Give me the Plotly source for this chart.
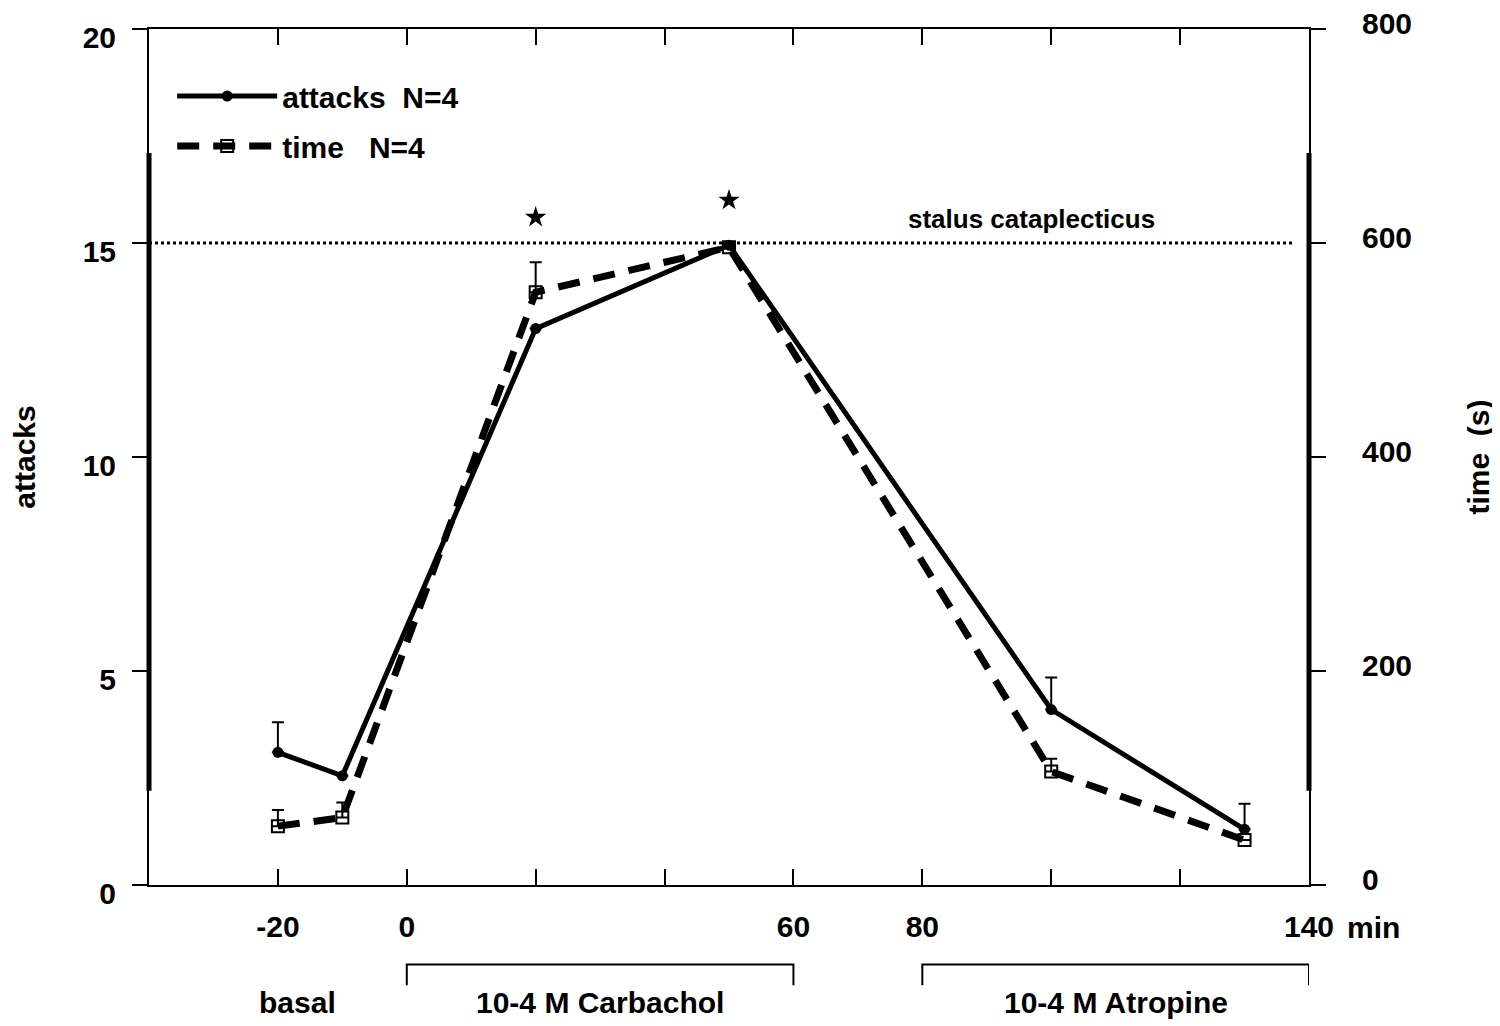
import plotly.graph_objects as go

# sampling times (min)
minutes = [-20, -10, 20, 50, 100, 130]

# cataplectic attacks (left axis)
attacks = [3.1, 2.55, 13.0, 14.95, 4.1, 1.3]
attacks_err = [0.7, 0.0, 0.0, 0.0, 0.75, 0.6]

# time in cataplexy, seconds (right axis)
time_s = [55, 63, 554, 596, 106, 42]
time_err = [15, 14, 28, 0, 12, 0]

# significance marks
sig_minutes = [20, 50]
sig_level = [15.6, 16.0]

status_level = 15
status_label = "stalus cataplecticus"

x_tickvals = [-20, 0, 20, 40, 60, 80, 100, 120, 140]
x_ticktext = ["-20", "0", "", "", "60", "80", "", "", "140"]
y_tickvals = [0, 5, 10, 15, 20]
y2_tickvals = [0, 200, 400, 600, 800]

# treatment periods shown below the axis
treatments = ["10-4 M Carbachol", "10-4 M Atropine"]
treat_start = [0, 80]
treat_end = [60, 140]
basal_label = "basal"
basal_x = -17

# the scanned axes are drawn heavier over this span
axis_bold_span = [2.2, 17.1]

FONT = "Liberation Sans, Arial, sans-serif"

fig = go.Figure()

fig.add_trace(go.Scatter(
    x=minutes, y=attacks,
    mode="lines+markers",
    name="attacks  N=4",
    line=dict(color="black", width=5),
    marker=dict(symbol="circle", size=11, color="black"),
    error_y=dict(type="data", array=attacks_err, arrayminus=[0] * len(attacks_err),
                 color="black", thickness=2, width=6),
    legendgroup="a",
))

fig.add_trace(go.Scatter(
    x=minutes, y=time_s,
    mode="lines+markers",
    name="time   N=4",
    yaxis="y2",
    line=dict(color="black", width=7, dash="22px,14px"),
    marker=dict(symbol="square-open", size=12, color="black", line=dict(width=2)),
    error_y=dict(type="data", array=time_err, arrayminus=[0] * len(time_err),
                 color="black", thickness=2, width=6),
    legendgroup="b",
))

fig.add_trace(go.Scatter(
    x=sig_minutes, y=sig_level,
    mode="markers",
    marker=dict(symbol="star", size=16, color="black"),
    showlegend=False,
    hoverinfo="skip",
))

shapes = [
    dict(type="line", xref="paper", x0=0, x1=0.987, yref="y", y0=status_level, y1=status_level,
         line=dict(color="black", width=3, dash="dot")),
    dict(type="line", xref="paper", x0=0, x1=0, yref="y", y0=axis_bold_span[0], y1=axis_bold_span[1],
         line=dict(color="black", width=5)),
    dict(type="line", xref="paper", x0=1, x1=1, yref="y", y0=axis_bold_span[0], y1=axis_bold_span[1],
         line=dict(color="black", width=5)),
]

annotations = [
    dict(x=97, y=status_level, xref="x", yref="y", text=status_label, showarrow=False,
         yshift=24, font=dict(family=FONT, size=26, color="black", weight="bold")),
    dict(x=140, y=0, xref="x", yref="paper", text="min", showarrow=False,
         xanchor="left", yanchor="middle", xshift=36, yshift=-42,
         font=dict(family=FONT, size=30, color="black", weight="bold")),
    dict(x=basal_x, y=-0.137, xref="x", yref="paper", text=basal_label, showarrow=False,
         yanchor="middle",
         font=dict(family=FONT, size=30, color="black", weight="bold")),
]

for name, x0, x1 in zip(treatments, treat_start, treat_end):
    shapes.append(dict(type="path", xref="x", yref="paper",
                       path=f"M {x0},-0.117 L {x0},-0.093 L {x1},-0.093 L {x1},-0.117",
                       line=dict(color="black", width=2)))
    annotations.append(dict(x=(x0 + x1) / 2, y=-0.137, xref="x", yref="paper", text=name,
                            showarrow=False, yanchor="middle",
                            font=dict(family=FONT, size=30, color="black", weight="bold")))

fig.update_layout(
    width=1500, height=1026,
    margin=dict(l=141, r=199, t=21, b=149, autoexpand=False),
    paper_bgcolor="white", plot_bgcolor="white",
    font=dict(family=FONT, size=30, color="black"),
    showlegend=True,
    legend=dict(x=0.02, y=0.952, xanchor="left", yanchor="top",
                bgcolor="rgba(0,0,0,0)", tracegroupgap=8, itemwidth=100,
                font=dict(family=FONT, size=30, color="black", weight="bold")),
    xaxis=dict(range=[-40, 140], tickvals=x_tickvals, ticktext=x_ticktext,
               ticks="inside", ticklen=16, tickwidth=2, tickcolor="black",
               showline=True, linecolor="black", linewidth=2, mirror="ticks",
               showgrid=False, zeroline=False, automargin=False,
               tickfont=dict(family=FONT, size=30, weight="bold"), ticklabelstandoff=14),
    yaxis=dict(range=[0, 20], tickvals=y_tickvals,
               ticks="outside", ticklen=15, tickwidth=2, tickcolor="black",
               showline=True, linecolor="black", linewidth=2, automargin=False,
               showgrid=False, zeroline=False, ticklabelshift=8, ticklabelstandoff=10,
               ticklabeloverflow="allow",
               tickfont=dict(family=FONT, size=30, weight="bold"),
               title=dict(text="attacks", standoff=54,
                          font=dict(family=FONT, size=30, weight="bold"))),
    yaxis2=dict(range=[0, 800], tickvals=y2_tickvals, overlaying="y", side="right",
                ticks="outside", ticklen=15, tickwidth=2, tickcolor="black",
                showline=True, linecolor="black", linewidth=2, automargin=False,
                showgrid=False, zeroline=False, ticklabelshift=-6, ticklabelstandoff=30,
                ticklabeloverflow="allow",
                tickfont=dict(family=FONT, size=30, weight="bold"),
                title=dict(text="time  (s)", standoff=57,
                           font=dict(family=FONT, size=30, weight="bold"))),
    shapes=shapes,
    annotations=annotations,
)

fig.write_html("out.html")
